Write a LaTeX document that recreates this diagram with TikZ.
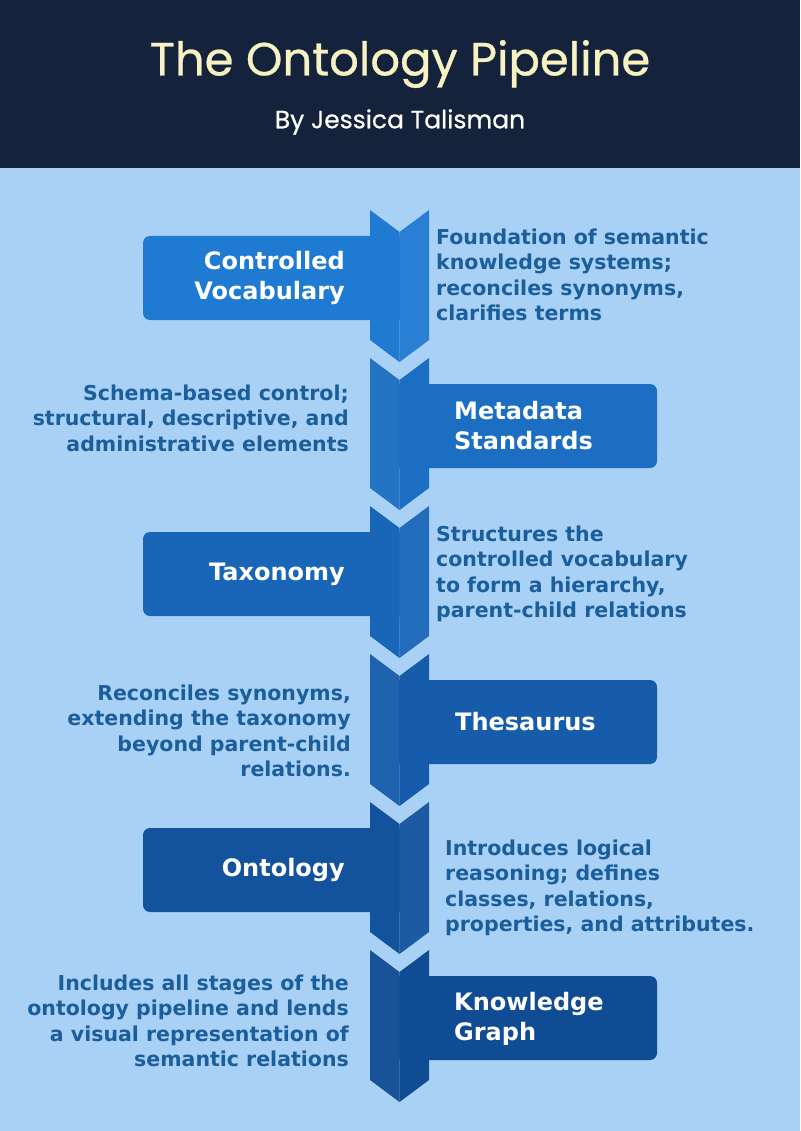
\documentclass[tikz,border=0pt]{standalone}
\usepackage{fontspec}
\setmainfont{DejaVu Sans}
\newfontfamily\titlefont[FakeBold=0.6]{Poppins}
\usetikzlibrary{positioning}
\definecolor{navyx}{HTML}{14233B}
\definecolor{paperx}{HTML}{A9D1F5}
\definecolor{creamx}{HTML}{F7F2C2}
\definecolor{inkx}{HTML}{1B5E9C}
\definecolor{stepa}{HTML}{1F7AD2}
\definecolor{stepb}{HTML}{1B6EC2}
\definecolor{stepc}{HTML}{1966B8}
\definecolor{stepd}{HTML}{165CAA}
\definecolor{stepe}{HTML}{13539E}
\definecolor{stepf}{HTML}{104C93}

\begin{document}
\begin{tikzpicture}[
      x=1pt, y=-1pt,
      stagebox/.style={rectangle, rounded corners=7pt, minimum width=267pt,
                       minimum height=84pt, inner sep=0pt},
      stagename/.style={text=white, font=\fontsize{24}{30}\selectfont\bfseries,
                        inner sep=0pt},
      desc/.style={text=inkx, font=\fontsize{20.5}{25.5}\selectfont\bfseries,
                   inner sep=0pt}
    ]
    % page, header band and title
    \fill[paperx] (0,0) rectangle (800,1131);
    \fill[navyx] (0,0) rectangle (800,168);
    \node[text=creamx, font=\titlefont\fontsize{46.5}{52}\selectfont] (title) at (400,64) {The Ontology Pipeline};
    \node[text=white!94!creamx, font=\titlefont\fontsize{25}{30}\selectfont] (byline) at (400,122) {By Jessica Talisman};

    % stage boxes (inner ends hidden under the chevrons)
    \node[stagebox, fill=stepa] (cvbox)  at (276.5,278)  {};
    \node[stagebox, fill=stepb] (msbox)  at (523.5,426)  {};
    \node[stagebox, fill=stepc] (taxbox) at (276.5,574)  {};
    \node[stagebox, fill=stepd] (thbox)  at (523.5,722)  {};
    \node[stagebox, fill=stepe] (ontbox) at (276.5,870)  {};
    \node[stagebox, fill=stepf] (kgbox)  at (523.5,1018) {};

    % chevron spine
    \foreach \t/\c/\s in {210/stepa/0, 358/stepb/1, 506/stepc/0, 654/stepd/1, 802/stepe/0, 950/stepf/1}{
      \ifnum\s=0
        \fill[\c] (370,\t) -- (399.5,\t+22) -- (399.5,\t+152) -- (370,\t+130) -- cycle;
        \fill[\c!96!white] (399.5,\t+22) -- (429,\t) -- (429,\t+130) -- (399.5,\t+152) -- cycle;
      \else
        \fill[\c!96!white] (370,\t) -- (399.5,\t+22) -- (399.5,\t+152) -- (370,\t+130) -- cycle;
        \fill[\c] (399.5,\t+22) -- (429,\t) -- (429,\t+130) -- (399.5,\t+152) -- cycle;
      \fi
    }

    % stage names
    \node[stagename, align=right, anchor=east] (cv)  at (345,278)  {Controlled\\Vocabulary};
    \node[stagename, align=left,  anchor=west] (ms)  at (454,426)  {Metadata\\Standards};
    \node[stagename, align=right, anchor=east] (tax) at (345,574)  {Taxonomy};
    \node[stagename, align=left,  anchor=west] (th)  at (455,722)  {Thesaurus};
    \node[stagename, align=right, anchor=east] (ont) at (345,870)  {Ontology};
    \node[stagename, align=left,  anchor=west] (kg)  at (454,1019) {Knowledge\\Graph};

    % descriptions
    \node[desc, align=left,  anchor=west] (cvtxt)  at (436,275)  {Foundation of semantic\\knowledge systems;\\reconciles synonyms,\\clarifies terms};
    \node[desc, align=right, anchor=east] (mstxt)  at (349,418)  {Schema-based control;\\structural, descriptive, and\\administrative elements};
    \node[desc, align=left,  anchor=west] (taxtxt) at (436,574)  {Structures the\\controlled vocabulary\\to form a hierarchy,\\parent-child relations};
    \node[desc, align=right, anchor=east] (thtxt)  at (351,731)  {Reconciles synonyms,\\extending the taxonomy\\beyond parent-child\\relations.};
    \node[desc, align=left,  anchor=west] (onttxt) at (445,888)  {Introduces logical\\reasoning; defines\\classes, relations,\\properties, and attributes.};
    \node[desc, align=right, anchor=east] (kgtxt)  at (349,1021) {Includes all stages of the\\ontology pipeline and lends\\a visual representation of\\semantic relations};
  \end{tikzpicture}
\end{document}
